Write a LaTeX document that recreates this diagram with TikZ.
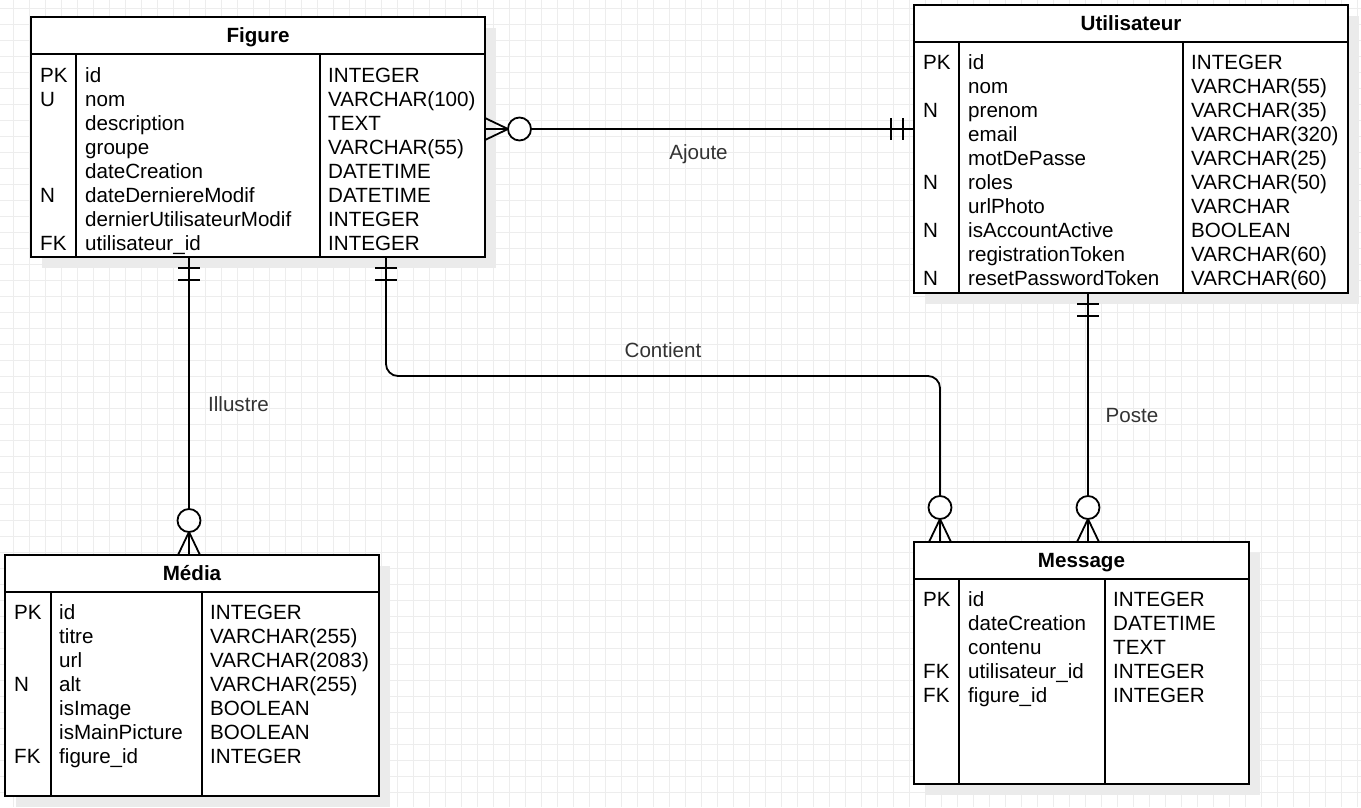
\documentclass[tikz,border=0pt]{standalone}
\usepackage{fontspec}
\setmainfont{Liberation Sans}
\usetikzlibrary{shadows}

\tikzset{
	entity/.style={draw, line width=1.8pt, fill=white, inner sep=0pt, outer sep=0pt, anchor=north west,
		drop shadow={shadow xshift=11pt, shadow yshift=-11pt, fill=black!8, opacity=1}},
	sep/.style={line width=1.8pt},
	cell/.style={anchor=base west, inner sep=0pt, font=\fontsize{20.6}{24}\selectfont},
	title/.style={anchor=base, inner sep=0pt, font=\fontsize{20.6}{24}\selectfont\bfseries},
	rel/.style={anchor=base, inner sep=0pt, text=black!80, font=\fontsize{20.6}{24}\selectfont},
	link/.style={line width=1.8pt},
	gridline/.style={black!7, line width=1pt},
	zeromany/.pic={\draw[line width=1.8pt] (-11,0) -- (0,-23) -- (11,0) (0,0) -- (0,-23);
		\draw[line width=1.8pt, fill=white] (0,-34.5) circle [radius=11.5pt];},
	onlyone/.pic={\draw[line width=1.8pt] (-11,11) -- (11,11) (-11,23) -- (11,23);}
}

\begin{document}
\begin{tikzpicture}[x=1pt,y=-1pt]
	\useasboundingbox (0,0) rectangle (1361,807);
	\fill[white] (0,0) rectangle (1361,807);
	\foreach \x in {13,29,...,1361}
		\draw[gridline] (\x,0) -- (\x,807);
	\foreach \y in {8.5,24.5,...,807}
		\draw[gridline] (0,\y) -- (1361,\y);

	% Figure
	\node[entity, minimum width=454pt, minimum height=240pt] (figure) at (31,17) {};
	\draw[sep] (31,54) -- (485,54) (76,54) -- (76,257) (320,54) -- (320,257);
	\node[title] (figT) at (258,42) {Figure};
	\foreach \k/\n/\t [count=\i from 0] in {PK/id/INTEGER, U/nom/VARCHAR(100), /description/TEXT,
			/groupe/VARCHAR(55), /dateCreation/DATETIME, N/dateDerniereModif/DATETIME,
			/dernierUtilisateurModif/INTEGER, FK/utilisateur\_id/INTEGER}{
		\node[cell] (figK\i) at (40,{82+24*\i}) {\k};
		\node[cell] (figN\i) at (85,{82+24*\i}) {\n};
		\node[cell] (figY\i) at (328,{82+24*\i}) {\t};
	}

	% Utilisateur
	\node[entity, minimum width=434pt, minimum height=288pt] (utilisateur) at (914,5) {};
	\draw[sep] (914,42) -- (1348,42) (959,42) -- (959,293) (1183,42) -- (1183,293);
	\node[title] (utiT) at (1131,30) {Utilisateur};
	\foreach \k/\n/\t [count=\i from 0] in {PK/id/INTEGER, /nom/VARCHAR(55), N/prenom/VARCHAR(35),
			/email/VARCHAR(320), /motDePasse/VARCHAR(25), N/roles/VARCHAR(50), /urlPhoto/VARCHAR,
			N/isAccountActive/BOOLEAN, /registrationToken/VARCHAR(60), N/resetPasswordToken/VARCHAR(60)}{
		\node[cell] (utiK\i) at (923,{69+24*\i}) {\k};
		\node[cell] (utiN\i) at (968,{69+24*\i}) {\n};
		\node[cell] (utiY\i) at (1191,{69+24*\i}) {\t};
	}

	% Média
	\node[entity, minimum width=374pt, minimum height=241pt] (media) at (5,555) {};
	\draw[sep] (5,592) -- (379,592) (51,592) -- (51,796) (202,592) -- (202,796);
	\node[title] (medT) at (192,580) {Média};
	\foreach \k/\n/\t [count=\i from 0] in {PK/id/INTEGER, /titre/VARCHAR(255), /url/VARCHAR(2083),
			N/alt/VARCHAR(255), /isImage/BOOLEAN, /isMainPicture/BOOLEAN, FK/figure\_id/INTEGER}{
		\node[cell] (medK\i) at (14,{619+24*\i}) {\k};
		\node[cell] (medN\i) at (59,{619+24*\i}) {\n};
		\node[cell] (medY\i) at (210,{619+24*\i}) {\t};
	}

	% Message
	\node[entity, minimum width=335pt, minimum height=242pt] (message) at (914,542) {};
	\draw[sep] (914,579) -- (1249,579) (959,579) -- (959,784) (1105,579) -- (1105,784);
	\node[title] (mesT) at (1081.5,567) {Message};
	\foreach \k/\n/\t [count=\i from 0] in {PK/id/INTEGER, /dateCreation/DATETIME, /contenu/TEXT,
			FK/utilisateur\_id/INTEGER, FK/figure\_id/INTEGER}{
		\node[cell] (mesK\i) at (923,{606+24*\i}) {\k};
		\node[cell] (mesN\i) at (968,{606+24*\i}) {\n};
		\node[cell] (mesY\i) at (1113,{606+24*\i}) {\t};
	}

	% relations
	\draw[link] (figure.east |- 0,129) -- (utilisateur.west |- 0,129);
	\pic[rotate=-90] at (figure.east |- 0,129) {zeromany};
	\pic[rotate=-90] at (utilisateur.west |- 0,129) {onlyone};
	\node[rel] (ajoute) at (698.5,159) {Ajoute};

	\draw[link] (figure.south -| 189,0) -- (media.north -| 189,0);
	\pic at (figure.south -| 189,0) {onlyone};
	\pic at (media.north -| 189,0) {zeromany};
	\node[rel] (illustre) at (238.5,411) {Illustre};

	\draw[link, rounded corners=12pt] (figure.south -| 386,0) |- (940,376) -- (message.north -| 940,0);
	\pic at (figure.south -| 386,0) {onlyone};
	\pic at (message.north -| 940,0) {zeromany};
	\node[rel] (contient) at (663,357) {Contient};

	\draw[link] (utilisateur.south -| 1088,0) -- (message.north -| 1088,0);
	\pic at (utilisateur.south -| 1088,0) {onlyone};
	\pic at (message.north -| 1088,0) {zeromany};
	\node[rel] (poste) at (1132,422) {Poste};
\end{tikzpicture}
\end{document}
